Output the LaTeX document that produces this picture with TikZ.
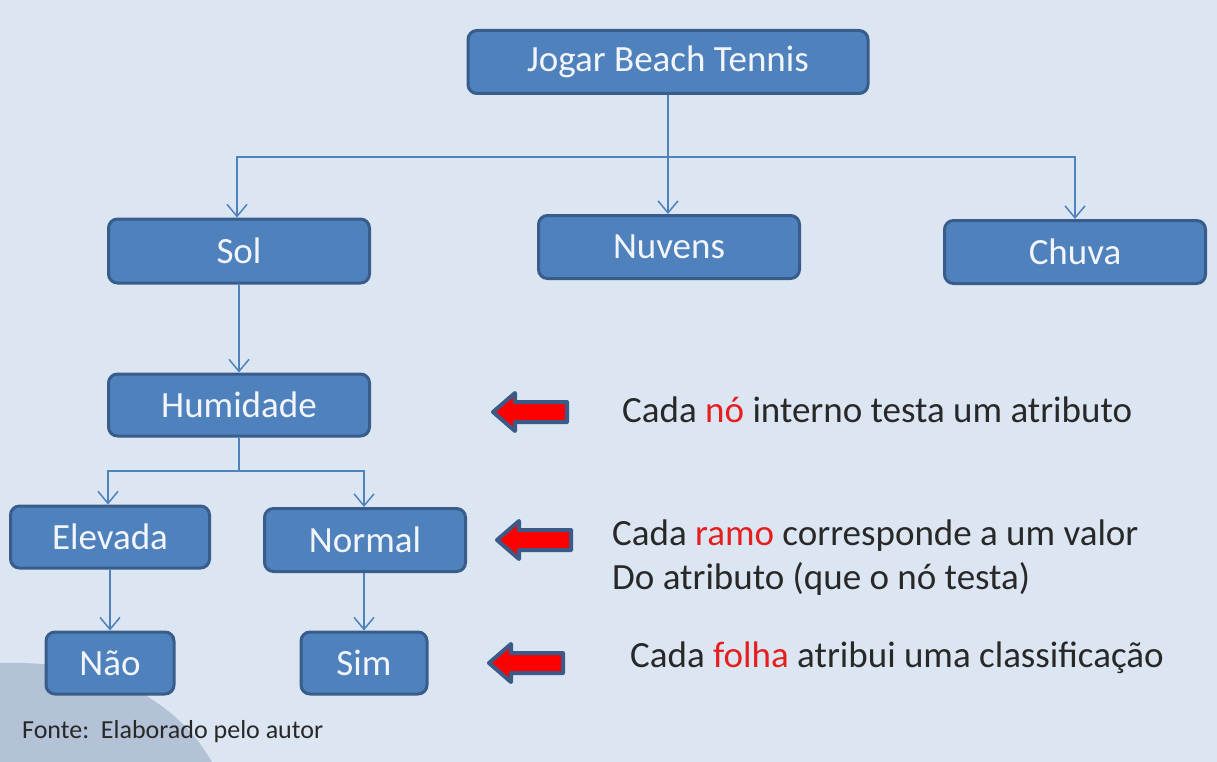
\documentclass[tikz,border=0pt]{standalone}
\usepackage{fontspec}
\setmainfont{Carlito}
\usetikzlibrary{arrows.meta}
\definecolor{bg}{RGB}{220,230,242}
\definecolor{swoosh}{RGB}{180,194,215}
\definecolor{boxfill}{RGB}{79,129,189}
\definecolor{boxline}{RGB}{56,93,138}
\definecolor{linkcol}{RGB}{79,129,189}
\definecolor{txtwhite}{RGB}{242,246,252}
\definecolor{txtdark}{RGB}{40,40,40}
\definecolor{redw}{RGB}{230,30,30}
\definecolor{arrline}{RGB}{59,90,135}
\tikzset{
  tbox/.style={draw=boxline, line width=3pt, fill=boxfill, rounded corners=9pt,
    text=txtwhite, font=\fontsize{37}{44}\selectfont, inner sep=0pt, anchor=center},
  link/.style={draw=linkcol, line width=1.5pt},
  linkarr/.style={link, -{Straight Barb[length=12pt,width=20pt,line width=1.5pt]}},
  redarrow/.style={draw=arrline, line width=4pt, fill=red, line join=round},
  note/.style={text=txtdark, font=\fontsize{37}{44}\selectfont, anchor=west, inner sep=0pt, align=left},
}
\begin{document}
\begin{tikzpicture}[x=1pt,y=-1pt]
\fill[bg] (0,0) rectangle (1217,762);
\useasboundingbox (0,0) rectangle (1217,762);
\fill[swoosh] (0,663) .. controls (90,660) and (170,690) .. (212,762) -- (0,762) -- cycle;

% boxes
\node[tbox, minimum width=400pt, minimum height=63pt] (root) at (668,62) {Jogar Beach Tennis};
\node[tbox, minimum width=261pt, minimum height=64pt] (sol) at (239,251) {Sol};
\node[tbox, minimum width=261pt, minimum height=63pt] (nuv) at (669,247) {Nuvens};
\node[tbox, minimum width=261pt, minimum height=63pt] (chu) at (1075,252) {Chuva};
\node[tbox, minimum width=261pt, minimum height=62pt] (hum) at (239,405) {Humidade};
\node[tbox, minimum width=199pt, minimum height=62pt] (ele) at (110,537) {Elevada};
\node[tbox, minimum width=201pt, minimum height=63pt] (nor) at (365,540) {Normal};
\node[tbox, minimum width=128pt, minimum height=62pt] (nao) at (110,663) {Não};
\node[tbox, minimum width=126pt, minimum height=62pt] (sim) at (364,663) {Sim};

% connectors
\coordinate (j1) at (668,157);
\coordinate (j1l) at (237,157);
\coordinate (j1r) at (1075,157);
\draw[link] (root.south) -- (j1);
\draw[linkarr] (j1) -- (j1l) -- (sol.north -| j1l);
\draw[linkarr] (j1) -- (nuv.north -| j1);
\draw[linkarr] (j1) -- (j1r) -- (chu.north -| j1r);
\draw[linkarr] (sol.south) -- (hum.north);
\coordinate (j2) at (239,471);
\coordinate (j2l) at (108,471);
\coordinate (j2r) at (364,471);
\draw[link] (hum.south) -- (j2);
\draw[linkarr] (j2) -- (j2l) -- (ele.north -| j2l);
\draw[linkarr] (j2) -- (j2r) -- (nor.north -| j2r);
\draw[linkarr] (ele.south) -- (nao.north);
\draw[linkarr] (nor.south -| sim.north) -- (sim.north);

% red arrows
\foreach \nm/\x/\y in {ra/493/412, rb/497/540, rc/489/663}{
  \draw[redarrow] (\x,\y) -- ++(22,-19) -- ++(0,9) -- ++(52,0) -- ++(0,20) -- ++(-52,0) -- ++(0,9) -- cycle;
}

% notes
\node[note] (n1) at (622,410) {Cada \textcolor{redw}{nó} interno testa um atributo};
\node[note] (n2) at (612,558) {Cada \textcolor{redw}{ramo} corresponde a um valor\\Do atributo (que o nó testa)};
\node[note] (n3) at (630,658) {Cada \textcolor{redw}{folha} atribui uma classificação};

\node[text=txtdark, font=\fontsize{26}{30}\selectfont, anchor=west, inner sep=0pt] (src) at (22,732) {Fonte:~~Elaborado pelo autor};
\end{tikzpicture}
\end{document}
